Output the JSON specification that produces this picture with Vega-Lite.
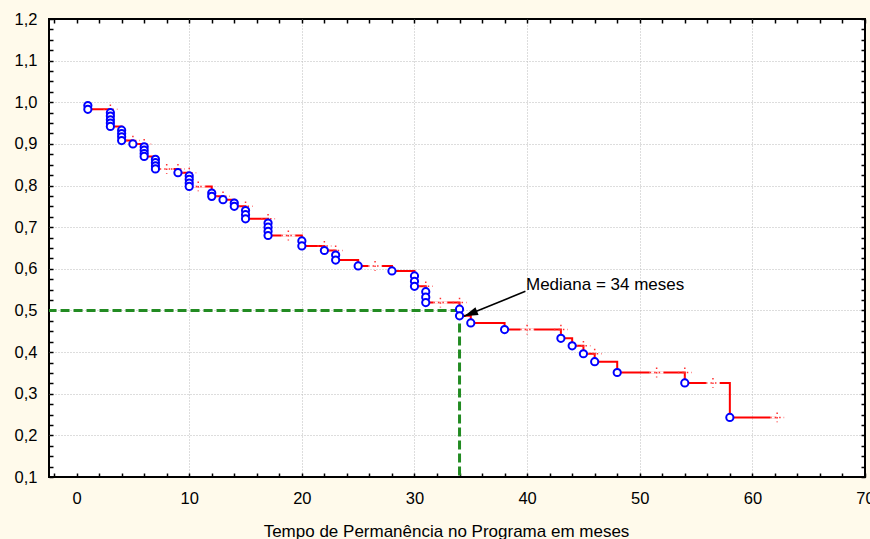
{
  "$schema": "https://vega.github.io/schema/vega-lite/v6.json",
  "width": 816,
  "height": 458,
  "autosize": "none",
  "padding": {"left": 49, "top": 19, "right": 5, "bottom": 62},
  "background": "#fffaeb",
  "config": {
    "view": {"stroke": "black", "strokeWidth": 2, "fill": "white"},
    "font": "Liberation Sans",
    "axis": {"labelFont": "Liberation Sans", "titleFont": "Liberation Sans", "labelColor": "black", "titleColor": "black", "tickColor": "black", "domain": false, "labelOverlap": false, "labelBound": false, "labelFlush": false}
  },
  "datasets": {
    "curve": [
      {"t": 1, "s": 0.983}, {"t": 3, "s": 0.942}, {"t": 4, "s": 0.908}, {"t": 5, "s": 0.900},
      {"t": 6, "s": 0.870}, {"t": 7, "s": 0.840}, {"t": 9, "s": 0.831}, {"t": 10, "s": 0.798},
      {"t": 12, "s": 0.774}, {"t": 13, "s": 0.766}, {"t": 14, "s": 0.750}, {"t": 15, "s": 0.720},
      {"t": 17, "s": 0.680}, {"t": 20, "s": 0.655}, {"t": 22, "s": 0.644}, {"t": 23, "s": 0.621},
      {"t": 25, "s": 0.607}, {"t": 28, "s": 0.595}, {"t": 30, "s": 0.558}, {"t": 31, "s": 0.519},
      {"t": 34, "s": 0.487}, {"t": 35, "s": 0.470}, {"t": 38, "s": 0.454}, {"t": 43, "s": 0.433},
      {"t": 44, "s": 0.415}, {"t": 45, "s": 0.396}, {"t": 46, "s": 0.377}, {"t": 48, "s": 0.351},
      {"t": 54, "s": 0.326}, {"t": 58, "s": 0.243}, {"t": 62.2, "s": 0.243}
    ],
    "events": [
      {"t": 1, "s": 0.992}, {"t": 1, "s": 0.983},
      {"t": 3, "s": 0.975}, {"t": 3, "s": 0.967}, {"t": 3, "s": 0.958}, {"t": 3, "s": 0.950}, {"t": 3, "s": 0.942},
      {"t": 4, "s": 0.933}, {"t": 4, "s": 0.925}, {"t": 4, "s": 0.917}, {"t": 4, "s": 0.908},
      {"t": 5, "s": 0.900},
      {"t": 6, "s": 0.893}, {"t": 6, "s": 0.885}, {"t": 6, "s": 0.877}, {"t": 6, "s": 0.870},
      {"t": 7, "s": 0.863}, {"t": 7, "s": 0.855}, {"t": 7, "s": 0.847}, {"t": 7, "s": 0.840},
      {"t": 9, "s": 0.831},
      {"t": 10, "s": 0.823}, {"t": 10, "s": 0.815}, {"t": 10, "s": 0.806}, {"t": 10, "s": 0.798},
      {"t": 12, "s": 0.782}, {"t": 12, "s": 0.774},
      {"t": 13, "s": 0.766},
      {"t": 14, "s": 0.758}, {"t": 14, "s": 0.750},
      {"t": 15, "s": 0.740}, {"t": 15, "s": 0.730}, {"t": 15, "s": 0.720},
      {"t": 17, "s": 0.710}, {"t": 17, "s": 0.700}, {"t": 17, "s": 0.690}, {"t": 17, "s": 0.680},
      {"t": 20, "s": 0.667}, {"t": 20, "s": 0.655},
      {"t": 22, "s": 0.644},
      {"t": 23, "s": 0.633}, {"t": 23, "s": 0.621},
      {"t": 25, "s": 0.607},
      {"t": 28, "s": 0.595},
      {"t": 30, "s": 0.583}, {"t": 30, "s": 0.570}, {"t": 30, "s": 0.558},
      {"t": 31, "s": 0.545}, {"t": 31, "s": 0.532}, {"t": 31, "s": 0.519},
      {"t": 34, "s": 0.503}, {"t": 34, "s": 0.487},
      {"t": 35, "s": 0.470},
      {"t": 38, "s": 0.454},
      {"t": 43, "s": 0.433},
      {"t": 44, "s": 0.415},
      {"t": 45, "s": 0.396},
      {"t": 46, "s": 0.377},
      {"t": 48, "s": 0.351},
      {"t": 54, "s": 0.326},
      {"t": 58, "s": 0.243}
    ],
    "censored_mid": [
      {"t": 8, "s": 0.840}, {"t": 10.8, "s": 0.798}, {"t": 18.8, "s": 0.680}, {"t": 26.5, "s": 0.607},
      {"t": 32.3, "s": 0.519}, {"t": 40, "s": 0.454}, {"t": 51.5, "s": 0.351}, {"t": 56.5, "s": 0.326},
      {"t": 62.2, "s": 0.243}
    ],
    "censored_at_event": [
      {"t": 3, "s": 0.983}, {"t": 5, "s": 0.908}, {"t": 6, "s": 0.900}, {"t": 9, "s": 0.840},
      {"t": 10, "s": 0.831}, {"t": 13, "s": 0.774}, {"t": 15, "s": 0.750}, {"t": 17, "s": 0.720},
      {"t": 22, "s": 0.655}, {"t": 23, "s": 0.644}, {"t": 31, "s": 0.558}, {"t": 34, "s": 0.519},
      {"t": 43, "s": 0.454}, {"t": 45, "s": 0.415}, {"t": 46, "s": 0.396}, {"t": 54, "s": 0.351}
    ],
    "median": [{"t": 34, "s": 0.5}],
    "arrow": [{"t": 34.4, "s": 0.486, "o": 1}, {"t": 39.85, "s": 0.546, "o": 2}],
    "label": [{"t": 39.9, "s": 0.562, "text": "Mediana = 34 meses"}]
  },
  "layer": [
    {
      "data": {"name": "median"},
      "mark": {"type": "rule", "color": "#228b22", "strokeWidth": 3, "strokeDash": [9, 4]},
      "encoding": {
        "x": {"field": "t", "type": "quantitative", "scale": {"domain": [-2.45, 70], "nice": false, "zero": false}, "axis": null},
        "x2": {"datum": -2.45},
        "y": {"field": "s", "type": "quantitative", "scale": {"domain": [0.1, 1.2], "nice": false, "zero": false}, "axis": null}
      }
    },
    {
      "data": {"name": "median"},
      "mark": {"type": "rule", "color": "#228b22", "strokeWidth": 3, "strokeDash": [9, 4]},
      "encoding": {
        "x": {"field": "t", "type": "quantitative", "scale": {"domain": [-2.45, 70], "nice": false, "zero": false}, "axis": null},
        "y": {"field": "s", "type": "quantitative", "scale": {"domain": [0.1, 1.2], "nice": false, "zero": false}, "axis": null},
        "y2": {"datum": 0.1}
      }
    },
    {
      "data": {"name": "curve"},
      "mark": {"type": "line", "interpolate": "step-after", "color": "#ff0000", "strokeWidth": 2},
      "encoding": {
        "x": {"field": "t", "type": "quantitative", "scale": {"domain": [-2.45, 70], "nice": false, "zero": false},
          "axis": {
            "orient": "bottom",
            "values": [-2,0,2,4,6,8,10,12,14,16,18,20,22,24,26,28,30,32,34,36,38,40,42,44,46,48,50,52,54,56,58,60,62,64,66,68,70],
            "tickSize": -4, "tickWidth": 1.5, "labelPadding": 17, "labelFontSize": 16.5,
            "labelExpr": "datum.value % 10 === 0 ? datum.value : ''",
            "grid": true,
            "gridColor": {"condition": {"test": "datum.value % 10 === 0 && datum.value > 0 && datum.value < 70", "value": "#bbbbbb"}, "value": "transparent"},
            "gridDash": [1, 2], "gridWidth": 1,
            "title": "Tempo de Permanência no Programa em meses",
            "titleFontSize": 17, "titleFontWeight": "normal",
            "titleX": 397, "titleY": 59, "titleAlign": "center", "titleBaseline": "alphabetic"
          }
        },
        "y": {"field": "s", "type": "quantitative", "scale": {"domain": [0.1, 1.2], "nice": false, "zero": false},
          "axis": {
            "orient": "left",
            "values": [0.1,0.125,0.15,0.175,0.2,0.225,0.25,0.275,0.3,0.325,0.35,0.375,0.4,0.425,0.45,0.475,0.5,0.525,0.55,0.575,0.6,0.625,0.65,0.675,0.7,0.725,0.75,0.775,0.8,0.825,0.85,0.875,0.9,0.925,0.95,0.975,1.0,1.025,1.05,1.075,1.1,1.125,1.15,1.175,1.2],
            "tickSize": -4, "tickWidth": 1.5, "labelPadding": 16, "labelFontSize": 16.5,
            "labelExpr": "abs(datum.value*10 - round(datum.value*10)) < 0.001 ? replace(format(datum.value, '.1f'), '.', ',') : ''",
            "grid": true,
            "gridColor": {"condition": {"test": "abs(datum.value*10 - round(datum.value*10)) < 0.001 && datum.value > 0.15 && datum.value < 1.15", "value": "#bbbbbb"}, "value": "transparent"},
            "gridDash": [1, 2], "gridWidth": 1,
            "title": null
          }
        }
      }
    },
    {
      "data": {"name": "censored_mid"},
      "mark": {"type": "point", "shape": "M-1,-0.18L1,-0.18L1,0.18L-1,0.18Z", "filled": true, "color": "white", "opacity": 1, "size": 196},
      "encoding": {
        "x": {"field": "t", "type": "quantitative", "scale": {"domain": [-2.45, 70], "nice": false, "zero": false}, "axis": null},
        "y": {"field": "s", "type": "quantitative", "scale": {"domain": [0.1, 1.2], "nice": false, "zero": false}, "axis": null}
      }
    },
    {
      "data": {"name": "censored_mid"},
      "mark": {"type": "point", "shape": "M-1,0L1,0M0,-0.7L0,0.7", "filled": false, "stroke": "#ff3030", "strokeWidth": 1.5, "strokeDash": [1.5, 3], "opacity": 1, "size": 196},
      "encoding": {
        "x": {"field": "t", "type": "quantitative", "scale": {"domain": [-2.45, 70], "nice": false, "zero": false}, "axis": null},
        "y": {"field": "s", "type": "quantitative", "scale": {"domain": [0.1, 1.2], "nice": false, "zero": false}, "axis": null}
      }
    },
    {
      "data": {"name": "censored_at_event"},
      "mark": {"type": "point", "shape": "M-1,0L1,0M0,-0.7L0,0.7", "filled": false, "stroke": "#ff3030", "strokeWidth": 1.5, "strokeDash": [1.5, 3], "opacity": 1, "size": 196},
      "encoding": {
        "x": {"field": "t", "type": "quantitative", "scale": {"domain": [-2.45, 70], "nice": false, "zero": false}, "axis": null},
        "y": {"field": "s", "type": "quantitative", "scale": {"domain": [0.1, 1.2], "nice": false, "zero": false}, "axis": null}
      }
    },
    {
      "data": {"name": "events"},
      "mark": {"type": "point", "shape": "circle", "filled": false, "fill": "white", "fillOpacity": 1, "stroke": "#0000ff", "strokeWidth": 2, "opacity": 1, "size": 52},
      "encoding": {
        "x": {"field": "t", "type": "quantitative", "scale": {"domain": [-2.45, 70], "nice": false, "zero": false},
          "axis": {
            "orient": "top",
            "values": [-2,0,2,4,6,8,10,12,14,16,18,20,22,24,26,28,30,32,34,36,38,40,42,44,46,48,50,52,54,56,58,60,62,64,66,68,70],
            "tickSize": -4, "tickWidth": 1.5, "labels": false, "grid": false, "title": null
          }
        },
        "y": {"field": "s", "type": "quantitative", "scale": {"domain": [0.1, 1.2], "nice": false, "zero": false},
          "axis": {
            "orient": "right",
            "values": [0.1,0.125,0.15,0.175,0.2,0.225,0.25,0.275,0.3,0.325,0.35,0.375,0.4,0.425,0.45,0.475,0.5,0.525,0.55,0.575,0.6,0.625,0.65,0.675,0.7,0.725,0.75,0.775,0.8,0.825,0.85,0.875,0.9,0.925,0.95,0.975,1.0,1.025,1.05,1.075,1.1,1.125,1.15,1.175,1.2],
            "tickSize": -4, "tickWidth": 1.5, "labels": false, "grid": false, "title": null
          }
        }
      }
    },
    {
      "data": {"name": "arrow"},
      "mark": {"type": "line", "color": "black", "strokeWidth": 1.5},
      "encoding": {
        "x": {"field": "t", "type": "quantitative", "scale": {"domain": [-2.45, 70], "nice": false, "zero": false}, "axis": null},
        "y": {"field": "s", "type": "quantitative", "scale": {"domain": [0.1, 1.2], "nice": false, "zero": false}, "axis": null},
        "order": {"field": "o"}
      }
    },
    {
      "data": {"name": "arrow"},
      "transform": [{"filter": "datum.o === 1"}],
      "mark": {"type": "point", "shape": "M0,0L0.3,1L-0.3,1Z", "filled": true, "color": "black", "opacity": 1, "size": 784, "angle": 248},
      "encoding": {
        "x": {"field": "t", "type": "quantitative", "scale": {"domain": [-2.45, 70], "nice": false, "zero": false}, "axis": null},
        "y": {"field": "s", "type": "quantitative", "scale": {"domain": [0.1, 1.2], "nice": false, "zero": false}, "axis": null}
      }
    },
    {
      "data": {"name": "label"},
      "mark": {"type": "text", "align": "left", "baseline": "middle", "fontSize": 17, "font": "Liberation Sans", "color": "black"},
      "encoding": {
        "x": {"field": "t", "type": "quantitative", "scale": {"domain": [-2.45, 70], "nice": false, "zero": false}, "axis": null},
        "y": {"field": "s", "type": "quantitative", "scale": {"domain": [0.1, 1.2], "nice": false, "zero": false}, "axis": null},
        "text": {"field": "text"}
      }
    }
  ],
  "resolve": {"axis": {"x": "independent", "y": "independent"}}
}
